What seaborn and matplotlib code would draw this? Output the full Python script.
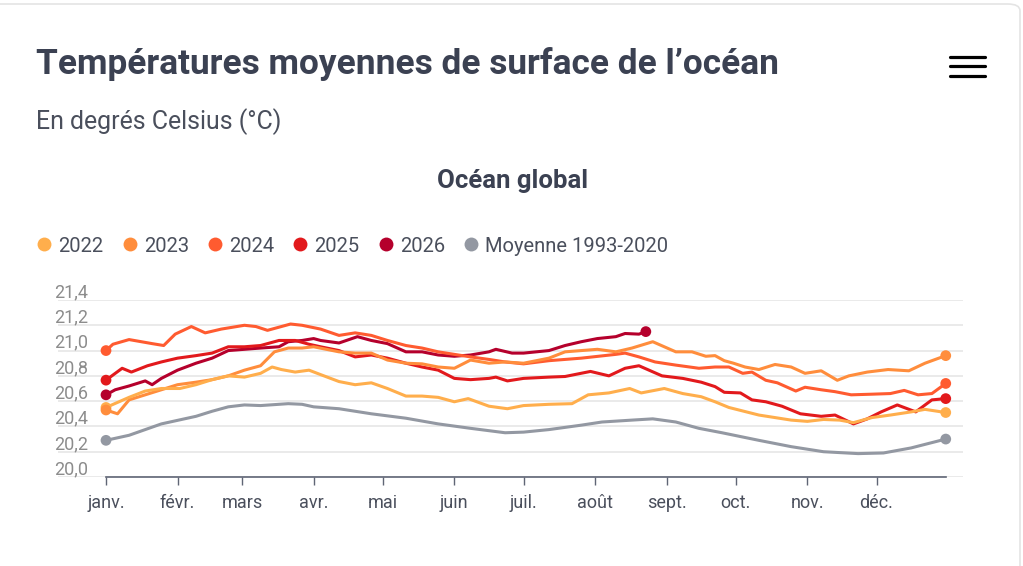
import numpy as np
import pandas as pd
import matplotlib
matplotlib.use("Agg")
import matplotlib.pyplot as plt
import seaborn as sns
from matplotlib.lines import Line2D
from matplotlib.patches import FancyBboxPatch
from matplotlib.transforms import ScaledTranslation

# daily SST (°C) at irregular days of the year
days_2022 = [0, 10, 17, 24, 32, 39, 46, 53, 60, 67, 72, 76, 82, 88, 93, 101, 108, 115, 122, 130,
             137, 144, 151, 157, 166, 174, 181, 192, 202, 209, 218, 227, 232, 242, 250, 258, 264,
             270, 283, 290, 297, 304, 311, 318, 324, 332, 340, 349, 355, 364]
vals_2022 = [20.55, 20.63, 20.68, 20.70, 20.70, 20.73, 20.77, 20.80, 20.79, 20.82, 20.87, 20.85,
             20.83, 20.845, 20.81, 20.755, 20.73, 20.745, 20.70, 20.64, 20.64, 20.63, 20.595, 20.62,
             20.56, 20.54, 20.565, 20.575, 20.58, 20.65, 20.665, 20.70, 20.665, 20.70, 20.66, 20.635,
             20.595, 20.55, 20.49, 20.47, 20.45, 20.44, 20.455, 20.45, 20.43, 20.47, 20.49, 20.515,
             20.535, 20.51]

days_2023 = [0, 5, 10, 17, 24, 31, 39, 46, 53, 60, 67, 73, 79, 85, 90, 101, 108, 115, 122, 130,
             137, 144, 151, 158, 166, 173, 181, 192, 199, 206, 213, 221, 228, 237, 242, 247, 254,
             260, 264, 268, 272, 277, 283, 290, 297, 303, 310, 317, 322, 330, 339, 348, 355, 364]
vals_2023 = [20.53, 20.50, 20.61, 20.65, 20.69, 20.73, 20.75, 20.77, 20.80, 20.845, 20.88, 20.99,
             21.02, 21.02, 21.03, 20.99, 20.98, 20.98, 20.925, 20.90, 20.895, 20.87, 20.86, 20.925,
             20.90, 20.91, 20.90, 20.94, 20.99, 21.00, 21.01, 20.99, 21.02, 21.07, 21.03, 20.99,
             20.99, 20.955, 20.96, 20.92, 20.90, 20.87, 20.85, 20.89, 20.87, 20.82, 20.84, 20.765,
             20.80, 20.83, 20.85, 20.84, 20.90, 20.96]

days_2024 = [0, 3, 10, 20, 25, 30, 37, 43, 50, 60, 65, 70, 80, 85, 93, 101, 108, 115, 122, 130,
             137, 144, 151, 158, 166, 173, 181, 192, 206, 221, 225, 231, 238, 247, 257, 264, 270,
             276, 280, 286, 291, 299, 303, 310, 316, 323, 332, 340, 346, 352, 358, 364]
vals_2024 = [21.00, 21.05, 21.087, 21.055, 21.04, 21.13, 21.19, 21.14, 21.17, 21.20, 21.19, 21.16,
             21.21, 21.20, 21.17, 21.12, 21.14, 21.12, 21.08, 21.04, 21.02, 20.99, 20.97, 20.95,
             20.93, 20.91, 20.895, 20.92, 20.94, 20.97, 20.98, 20.95, 20.91, 20.885, 20.86, 20.87,
             20.87, 20.82, 20.83, 20.765, 20.745, 20.68, 20.71, 20.69, 20.675, 20.65, 20.655, 20.66,
             20.685, 20.65, 20.66, 20.74]

days_2025 = [0, 7, 11, 18, 24, 31, 39, 46, 53, 60, 67, 75, 82, 88, 93, 101, 108, 115, 122, 130,
             137, 144, 151, 158, 166, 169, 174, 181, 192, 199, 210, 218, 225, 231, 241, 250, 258,
             264, 268, 275, 280, 286, 293, 301, 310, 316, 324, 330, 336, 343, 351, 358, 364]
vals_2025 = [20.766, 20.86, 20.83, 20.88, 20.91, 20.94, 20.96, 20.98, 21.03, 21.03, 21.04, 21.08,
             21.08, 21.05, 21.03, 21.00, 20.95, 20.965, 20.94, 20.90, 20.87, 20.845, 20.78, 20.77,
             20.78, 20.79, 20.76, 20.78, 20.79, 20.795, 20.835, 20.80, 20.86, 20.88, 20.80, 20.78,
             20.75, 20.715, 20.67, 20.665, 20.61, 20.595, 20.56, 20.50, 20.48, 20.49, 20.42, 20.46,
             20.515, 20.57, 20.515, 20.61, 20.62]

days_2026 = [0, 4, 10, 17, 20, 24, 31, 39, 46, 53, 60, 67, 75, 79, 85, 90, 93, 101, 109, 115,
             122, 130, 137, 144, 151, 158, 166, 169, 176, 181, 192, 199, 206, 213, 221, 225, 231, 234]
vals_2026 = [20.65, 20.69, 20.72, 20.76, 20.73, 20.78, 20.845, 20.90, 20.94, 21.00, 21.01, 21.02,
             21.03, 21.07, 21.08, 21.095, 21.08, 21.06, 21.11, 21.08, 21.055, 20.99, 20.99, 20.965,
             20.955, 20.965, 20.99, 21.01, 20.98, 20.98, 21.00, 21.04, 21.07, 21.095, 21.11, 21.135,
             21.13, 21.15]

days_mean = [0, 10, 24, 39, 46, 53, 60, 67, 79, 85, 90, 101, 115, 130, 144, 158, 173, 181, 192,
             206, 215, 228, 237, 247, 257, 267, 283, 297, 311, 326, 337, 349, 364]
vals_mean = [20.29, 20.33, 20.42, 20.48, 20.52, 20.555, 20.57, 20.565, 20.58, 20.575, 20.555, 20.54,
             20.50, 20.465, 20.42, 20.385, 20.35, 20.355, 20.375, 20.41, 20.435, 20.45, 20.46,
             20.435, 20.385, 20.35, 20.29, 20.24, 20.20, 20.185, 20.19, 20.23, 20.30]

series_names = ["2022", "2023", "2024", "2025", "2026", "Moyenne 1993-2020"]
series_colors = ["#ffae4c", "#ff8d3c", "#ff5b30", "#e2191c", "#b5002c", "#9398a2"]

month_starts = [0, 31, 59, 90, 120, 151, 181, 212, 243, 273, 304, 334]
month_labels = ["janv.", "févr.", "mars", "avr.", "mai", "juin",
                "juil.", "août", "sept.", "oct.", "nov.", "déc."]
y_ticks = [20.0, 20.2, 20.4, 20.6, 20.8, 21.0, 21.2, 21.4]

all_days = [days_2022, days_2023, days_2024, days_2025, days_2026, days_mean]
all_vals = [vals_2022, vals_2023, vals_2024, vals_2025, vals_2026, vals_mean]

frames = []
for name, d, v in zip(series_names, all_days, all_vals):
    frames.append(pd.DataFrame({"series": name, "day": d, "value": v}))
df = pd.concat(frames, ignore_index=True)
ends = pd.concat([df.groupby("series").head(1), df.groupby("series").tail(1)])

sns.set_theme(style="white")
plt.rcParams["font.family"] = ["Roboto", "DejaVu Sans"]

W, H = 1023, 566
fig = plt.figure(figsize=(W / 100, H / 100), dpi=100)
ax = fig.add_axes([58 / W, 1 - 477 / H, 905 / W, 177 / H])

palette = dict(zip(series_names, series_colors))
sns.lineplot(data=df, x="day", y="value", hue="series", hue_order=series_names[::-1],
             palette=palette, linewidth=2.2, estimator=None, legend=False, ax=ax)
sns.scatterplot(data=ends, x="day", y="value", hue="series", palette=palette,
                s=60, linewidth=0, legend=False, ax=ax, zorder=5)

px_per_day = 2.307
ax.set_xlim(-48 / px_per_day, 857 / px_per_day)
ax.set_ylim(20.0, 21.4)

ax.set_xticks(month_starts)
ax.set_xticklabels(month_labels, fontsize=13, color="#4a4f5c")
ax.set_yticks(y_ticks)
ax.set_yticklabels([f"{t:.1f}".replace(".", ",") for t in y_ticks], fontsize=13, color="#8c8c8c")

ax.grid(axis="y", color="#e6e6e6", linewidth=1.2)
ax.grid(axis="x", visible=False)
for s in ["top", "right", "left"]:
    ax.spines[s].set_visible(False)
ax.spines["bottom"].set_bounds(0, 364)
ax.spines["bottom"].set_color("#5f6575")
ax.spines["bottom"].set_linewidth(1.2)
ax.tick_params(axis="x", length=5.5, width=1, color="#5f6575", pad=7, bottom=True)
ax.tick_params(axis="y", length=0, pad=3)
offset = ScaledTranslation(0, 2 / 72, fig.dpi_scale_trans)
for lab in ax.get_yticklabels():
    lab.set_horizontalalignment("left")
    lab.set_verticalalignment("baseline")
    lab.set_transform(lab.get_transform() + offset)
ax.set_xlabel("")
ax.set_ylabel("")

dark = "#3b4152"
fig.text(36 / W, 1 - 64 / H, "Températures moyennes de surface de l’océan",
         fontsize=25.4, weight="bold", color=dark, va="center")
fig.text(36 / W, 1 - 122 / H, "En degrés Celsius (°C)", fontsize=17.9, color="#4a4f5c", va="center")
fig.text(513 / W, 1 - 181 / H, "Océan global", fontsize=18.5, weight="bold", color=dark,
         va="center", ha="center")

handles = [Line2D([], [], marker="o", linestyle="", markersize=10, markeredgewidth=0, color=c)
           for c in series_colors]
fig.legend(handles, series_names, loc="center left", bbox_to_anchor=(14 / W, 1 - 246 / H),
           ncol=6, frameon=False, fontsize=14.5, handletextpad=0.1, columnspacing=0.7,
           handlelength=1.2, labelcolor="#4a4f5c")

# hamburger menu
for yy in [57, 66.5, 76]:
    fig.add_artist(Line2D([950 / W, 985 / W], [1 - yy / H, 1 - yy / H],
                          transform=fig.transFigure, color="black", linewidth=2.3))

# card border
card = FancyBboxPatch((-20 / W, -40 / H), 1040 / W, 1 - 4 / H + 40 / H,
                      boxstyle="round,pad=0,rounding_size=0.012", transform=fig.transFigure,
                      facecolor="none", edgecolor="#e4e4e4", linewidth=1.2)
fig.add_artist(card)

fig.savefig("out.png", dpi=100)
